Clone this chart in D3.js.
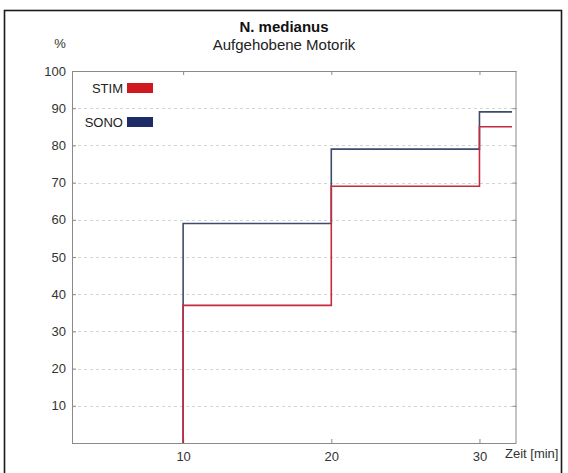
<!DOCTYPE html>
<html>
<head>
<meta charset="utf-8">
<script src="https://cdn.jsdelivr.net/npm/d3@7/dist/d3.min.js"></script>
<style>
  html, body { margin: 0; padding: 0; background: #fff; }
  svg { display: block; font-family: "Liberation Sans", Arial, Helvetica, sans-serif; }
</style>
</head>
<body>
<svg id="chart" width="568" height="473"></svg>
<script>
// Time points (min) at which the cumulative share changes
const stepTimes = [10, 20, 30];
const endTime = 32.2;
// Cumulative share with abolished motor function (%)
const stimValues = [37, 69, 85];
const sonoValues = [59, 79, 89];
const seriesNames = ["STIM", "SONO"];
const seriesColors = ["#c42b3e", "#3e4b6c"];
const legendColors = ["#cf1820", "#1d2b66"];
const yTicks = [10, 20, 30, 40, 50, 60, 70, 80, 90, 100];
const xTicks = [10, 20, 30];

const svg = d3.select("#chart");
const margin = { left: 72, right: 516.5, top: 71, bottom: 443 };

const x = d3.scaleLinear().domain([2.5, 32.5]).range([margin.left, margin.right]);
const y = d3.scaleLinear().domain([0, 100]).range([margin.bottom, margin.top]);

// outer frame
svg.append("rect")
  .attr("x", 4.5).attr("y", 10.5)
  .attr("width", 557).attr("height", 490)
  .attr("fill", "none").attr("stroke", "#1a1a1a").attr("stroke-width", 1.6);

// titles
svg.append("text").attr("x", 284).attr("y", 32)
  .attr("text-anchor", "middle").attr("font-size", 15).attr("font-weight", "bold")
  .attr("fill", "#111").text("N. medianus");
svg.append("text").attr("x", 284).attr("y", 50)
  .attr("text-anchor", "middle").attr("font-size", 15)
  .attr("fill", "#222").text("Aufgehobene Motorik");
svg.append("text").attr("x", 60).attr("y", 48)
  .attr("text-anchor", "middle").attr("font-size", 13)
  .attr("fill", "#333").text("%");

// dashed horizontal gridlines
svg.append("g").selectAll("line")
  .data(yTicks.filter(d => d < 100))
  .join("line")
  .attr("x1", margin.left).attr("x2", margin.right)
  .attr("y1", d => Math.round(y(d)) + 0.5).attr("y2", d => Math.round(y(d)) + 0.5)
  .attr("stroke", "#d4d4d4").attr("stroke-dasharray", "3,3");

// axes: labels on left/bottom, inward ticks on all four sides
const axisLeft = d3.axisLeft(y).tickValues(yTicks).tickSize(-4).tickPadding(6);
const axisRight = d3.axisRight(y).tickValues(yTicks).tickSize(-4).tickFormat("");
const axisBottom = d3.axisBottom(x).tickValues(xTicks).tickSize(-4).tickPadding(9);
const axisTop = d3.axisTop(x).tickValues(xTicks).tickSize(-4).tickFormat("");

function styleAxis(g) {
  g.select(".domain").remove();
  g.selectAll(".tick line").attr("stroke", "#8a8a8a");
  g.selectAll(".tick text").attr("fill", "#333").attr("font-size", 13)
    .attr("font-family", "Liberation Sans, Arial, sans-serif");
}
svg.append("g").attr("transform", `translate(${margin.left},0)`).call(axisLeft).call(styleAxis);
svg.append("g").attr("transform", `translate(${margin.right},0)`).call(axisRight).call(styleAxis);
svg.append("g").attr("transform", `translate(0,${margin.bottom})`).call(axisBottom).call(styleAxis);
svg.append("g").attr("transform", `translate(0,${margin.top})`).call(axisTop).call(styleAxis);

// plot box
svg.append("rect")
  .attr("x", margin.left + 0.5).attr("y", margin.top + 0.5)
  .attr("width", margin.right - margin.left - 1).attr("height", margin.bottom - margin.top)
  .attr("fill", "none").attr("stroke", "#8a8a8a").attr("stroke-width", 1);

svg.append("text").attr("x", 505).attr("y", 458)
  .attr("font-size", 13).attr("fill", "#333").text("Zeit [min]");

// step curves
const line = d3.line().x(d => x(d[0])).y(d => y(d[1])).curve(d3.curveStepAfter);
function stepPoints(values) {
  const pts = [[stepTimes[0], 0]];
  stepTimes.forEach((t, i) => pts.push([t, values[i]]));
  pts.push([endTime, values[values.length - 1]]);
  return pts;
}
const series = [
  { name: seriesNames[1], values: sonoValues, color: seriesColors[1] },
  { name: seriesNames[0], values: stimValues, color: seriesColors[0] }
];
svg.append("g").selectAll("path")
  .data(series)
  .join("path")
  .attr("d", d => line(stepPoints(d.values)))
  .attr("fill", "none")
  .attr("stroke", d => d.color)
  .attr("stroke-width", 1.6);

// legend
const legend = svg.append("g");
const legendRows = seriesNames.map((n, i) => ({ name: n, color: legendColors[i], y: 83 + i * 34 }));
legend.selectAll("rect")
  .data(legendRows)
  .join("rect")
  .attr("x", 127).attr("y", d => d.y)
  .attr("width", 26).attr("height", 10)
  .attr("fill", d => d.color);
legend.selectAll("text")
  .data(legendRows)
  .join("text")
  .attr("x", 123).attr("y", d => d.y + 10)
  .attr("text-anchor", "end").attr("font-size", 13).attr("fill", "#222")
  .text(d => d.name);
</script>
</body>
</html>
